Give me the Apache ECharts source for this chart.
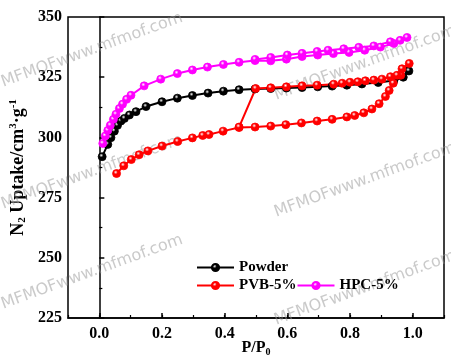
<!DOCTYPE html>
<html><head><meta charset="utf-8">
<script src="https://cdn.jsdelivr.net/npm/echarts@6/dist/echarts.min.js"></script>
<style>html,body{margin:0;padding:0;background:#fff}#c{width:451px;height:355px}</style>
</head><body><div id="c"></div>
<script>
// ---- data ----
const xTicks = [0.0, 0.2, 0.4, 0.6, 0.8, 1.0];
const yTicks = [225, 250, 275, 300, 325, 350];

const powderX = [0.009,0.027,0.037,0.048,0.058,0.069,0.080,0.096,0.117,0.149,0.200,0.249,0.297,0.347,0.396,0.446,0.497,0.547,0.597,0.647,0.697,0.743,0.790,0.838,0.890,0.940,0.970,0.988];
const powderY = [292.0,297.1,299.9,302.6,305.0,306.8,307.9,309.3,310.7,312.8,314.8,316.3,317.4,318.4,319.2,319.8,320.1,320.3,320.5,320.7,321.0,321.3,321.7,322.2,322.8,323.6,325.0,327.6];

const pvbX = [0.055,0.078,0.102,0.127,0.155,0.200,0.250,0.297,0.330,0.350,0.395,0.446,0.497,0.547,0.595,0.645,0.695,0.743,0.790,0.815,0.844,0.870,0.893,0.913,0.925,0.938,0.962,0.989,
              0.966,0.950,0.929,0.902,0.876,0.849,0.825,0.800,0.775,0.748,0.695,0.647,0.597,0.547,0.499,0.446];
const pvbY = [285.0,288.2,290.8,292.8,294.4,296.4,298.3,299.8,300.8,301.2,302.6,304.1,304.3,304.7,305.3,306.0,306.8,307.5,308.5,309.1,310.2,311.8,314.0,317.0,319.5,322.5,325.8,330.7,
              328.5,325.8,325.2,324.2,323.8,323.5,323.1,322.9,322.5,322.1,321.7,321.4,321.0,320.6,320.3,304.3];

const hpcX = [0.011,0.019,0.027,0.035,0.045,0.053,0.064,0.074,0.087,0.101,0.143,0.196,0.249,0.297,0.345,0.396,0.446,0.497,0.547,0.597,0.647,0.697,0.747,0.797,0.847,0.897,0.940,0.982,
              0.960,0.929,0.876,0.828,0.780,0.730,0.695,0.647,0.600,0.547,0.497];
const hpcY = [297.5,300.6,302.9,305.0,307.5,309.6,312.0,313.8,315.8,317.5,321.4,324.2,326.5,328.0,329.2,330.3,331.2,331.9,331.8,332.5,333.6,334.2,334.8,335.3,336.2,337.5,339.0,341.5,
              340.3,339.7,338.0,337.4,336.8,336.2,335.7,334.9,334.2,333.2,332.4];

const seriesNames = ['Powder', 'PVB-5%', 'HPC-5%'];
const seriesColors = ['#000000', '#ff0000', '#ff00ff'];

// ---- chart ----
const pairs = (xs, ys) => xs.map((x, i) => [x, ys[i]]);
const ball = c => ({
  type: 'radial', x: 0.4, y: 0.35, r: 0.65,
  colorStops: [{offset: 0, color: '#ffffff'}, {offset: 0.35, color: c}, {offset: 1, color: c}]
});
const font = '"Liberation Serif", "Times New Roman", serif';
const mk = (name, color, data) => ({
  name, type: 'line', data, xAxisIndex: 0, yAxisIndex: 0,
  symbol: 'circle', symbolSize: 8, showSymbol: true,
  lineStyle: {color, width: 2},
  itemStyle: {color: ball(color), borderColor: color, borderWidth: 0.8},
  animation: false, z: 3
});

const wm = [[92,50],[92,172],[92,272],[365,63],[365,180],[365,288]].map(p => ({
  type: 'text', x: p[0], y: p[1], rotation: 20 * Math.PI / 180, silent: true, z: 1,
  style: {text: 'MFMOFwww.mfmof.com', fill: 'rgba(150,150,150,0.5)', font: '16px "DejaVu Sans", sans-serif',
          align: 'center', verticalAlign: 'middle'}
}));

const legendText = {fontFamily: font, fontWeight: 'bold', fontSize: 15, color: '#000'};

const chart = echarts.init(document.getElementById('c'));
chart.setOption({
  backgroundColor: '#fff',
  animation: false,
  grid: {left: 68, right: 7, top: 17, bottom: 37, show: true, borderColor: '#000', borderWidth: 1.5,
         backgroundColor: 'transparent', containLabel: false, outerBoundsMode: 'none'},
  legend: [
    {data: ['Powder'], left: 196, top: 260, padding: 0, itemWidth: 37, itemHeight: 9, itemGap: 0, textStyle: legendText},
    {data: ['PVB-5%', 'HPC-5%'], left: 196, top: 278, padding: 0, itemWidth: 37, itemHeight: 9, itemGap: 0, textStyle: legendText}
  ],
  xAxis: [
    {type: 'value', min: -0.1, max: 1.1,
     name: 'P/P{s|0}', nameLocation: 'middle', nameGap: 21, nameMoveOverlap: false,
     nameTextStyle: {fontFamily: font, fontWeight: 'bold', fontSize: 16, color: '#000',
       rich: {s: {fontFamily: font, fontWeight: 'bold', fontSize: 10, verticalAlign: 'bottom', padding: [8,0,0,0]}}},
     axisLine: {show: true, onZero: false, lineStyle: {color: '#000', width: 1.5}},
     axisTick: {show: true, inside: true, length: 5, customValues: xTicks, lineStyle: {color: '#000', width: 1.5}},
     axisLabel: {customValues: xTicks, formatter: v => v.toFixed(1), margin: 8,
       fontFamily: font, fontWeight: 'bold', fontSize: 16, color: '#000'},
     splitLine: {show: false}},
    {type: 'value', min: -0.1, max: 1.1, interval: 0.1, position: 'bottom',
     axisLine: {show: false}, axisLabel: {show: false}, splitLine: {show: false},
     axisTick: {show: true, inside: true, length: 3, lineStyle: {color: '#000', width: 1.2}}}
  ],
  yAxis: {type: 'value', min: 225, max: 350, interval: 25,
    name: 'N{s|2} Uptake/cm{p|3}·g{p|-1}', nameLocation: 'middle', nameGap: 40, nameRotate: 90, nameMoveOverlap: false,
    nameTextStyle: {fontFamily: font, fontWeight: 'bold', fontSize: 18, color: '#000', lineHeight: 20,
      rich: {
        s: {fontFamily: font, fontWeight: 'bold', fontSize: 11, verticalAlign: 'bottom', lineHeight: 20},
        p: {fontFamily: font, fontWeight: 'bold', fontSize: 11, verticalAlign: 'top', lineHeight: 20}
      }},
    axisLine: {show: true, lineStyle: {color: '#000', width: 1.5}},
    axisTick: {show: true, inside: true, length: 5, lineStyle: {color: '#000', width: 1.5}},
    minorTick: {show: true, splitNumber: 2, length: 3, lineStyle: {color: '#000', width: 1.2}},
    axisLabel: {margin: 6, fontFamily: font, fontWeight: 'bold', fontSize: 16, color: '#000'},
    splitLine: {show: false}},
  graphic: wm,
  series: [
    mk(seriesNames[0], seriesColors[0], pairs(powderX, powderY)),
    mk(seriesNames[1], seriesColors[1], pairs(pvbX, pvbY)),
    mk(seriesNames[2], seriesColors[2], pairs(hpcX, hpcY))
  ]
});
</script></body></html>
